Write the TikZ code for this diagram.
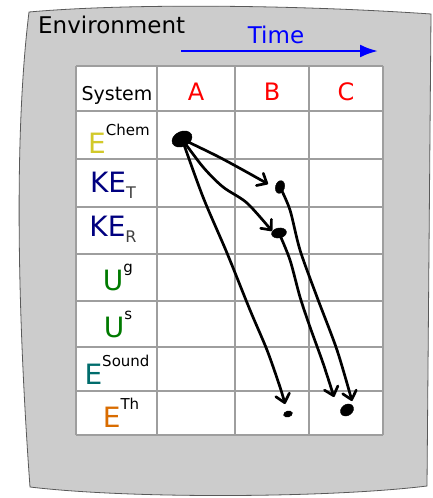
\documentclass[tikz,border=0pt]{standalone}
\usepackage{fontspec}
\setmainfont{DejaVu Sans}
\usetikzlibrary{arrows.meta}
\usetikzlibrary{shapes.geometric}

% energy symbol with a raised or lowered tag
\newcommand{\energyup}[3]{{\color{#1}\fontsize{28}{30}\selectfont #2}\raisebox{18pt}{\fontsize{15}{17}\selectfont #3}}
\newcommand{\energydown}[3]{{\color{#1}\fontsize{28}{30}\selectfont #2}\raisebox{-6pt}{\color{black!75}\fontsize{16}{18}\selectfont #3}}

\begin{document}
\begin{tikzpicture}[x=1pt, y=-1pt,
    inner sep=0pt, %
    envbox/.style={fill=black!20, draw=black!65, line width=0.8pt},
    cellline/.style={draw=black!38, line width=1.3pt},
    header/.style={anchor=base, font=\fontsize{24}{26}\selectfont},
    rowlabel/.style={anchor=base},
    blob/.style={ellipse, fill=black, draw=black, inner sep=0pt},
    timearrow/.style={draw=blue, line width=2.6pt, -{Latex[length=18pt,width=13pt]}},
    scrawl/.style={line width=2.7pt, line cap=round, line join=round,
        -{Straight Barb[length=8pt,width=14pt,round]}},
]
    % Colors
    \colorlet{chemc}{yellow!80!black}
    \colorlet{kec}{blue!50!black}
    \colorlet{uc}{green!48!black}
    \colorlet{soundc}{teal!85!black}
    \colorlet{thc}{orange!85!black}

    \useasboundingbox (0,0) rectangle (433,498);

    % Environment
    \draw[envbox] (29,12) .. controls (130,3) and (300,5) .. (431,14)
        -- (427,486) .. controls (330,498) and (130,499) .. (30,487)
        .. controls (20,350) and (12,150) .. (29,12) -- cycle;
    \node[anchor=base west, font=\fontsize{23}{25}\selectfont] (env) at (38,33) {Environment};

    % Time axis
    \coordinate (t0) at (181,51);
    \coordinate (t1) at (378,51);
    \draw[timearrow] (t0) -- (t1);
    \node[anchor=base, blue, font=\fontsize{23}{25}\selectfont] (time) at (276,43) {Time};

    % Table
    \fill[white] (76,66) rectangle (383,435);
    \foreach \x in {76,157,235,309,383}
        \draw[cellline] (\x,66) -- (\x,435);
    \foreach \y in {66,111,159,207,254,301,347,391,435}
        \draw[cellline] (76,\y) -- (383,\y);

    % Column heads
    \node[anchor=base, font=\fontsize{19}{21}\selectfont] (sys) at (117,100) {System};
    \foreach \c/\x in {A/196,B/272,C/346}
        \node[header, red] (col\c) at (\x,100) {\c};

    % Row heads
    \node[rowlabel] (chem)  at (119,153) {\energyup{chemc}{E}{Chem}};
    \node[rowlabel] (ket)   at (113,192) {\energydown{kec}{KE}{T}};
    \node[rowlabel] (ker)   at (113,236) {\energydown{kec}{KE}{R}};
    \node[rowlabel] (ug)    at (118,290) {\energyup{uc}{U}{g}};
    \node[rowlabel] (us)    at (118,337) {\energyup{uc}{U}{s}};
    \node[rowlabel] (sound) at (117,384) {\energyup{soundc}{E}{Sound}};
    \node[rowlabel] (th)    at (121,427) {\energyup{thc}{E}{Th}};

    % Energy dots
    \node[blob, minimum width=21pt, minimum height=15pt, rotate=25] (dotA) at (182,139) {};
    \node[blob, minimum width=9pt,  minimum height=13pt, rotate=-15] (dotKEt) at (280,187) {};
    \node[blob, minimum width=15pt, minimum height=10pt, rotate=10] (dotKEr) at (279,233) {};
    \node[blob, minimum width=9pt,  minimum height=6pt,  rotate=15] (dotThB) at (288,414) {};
    \node[blob, minimum width=14pt, minimum height=11pt, rotate=35] (dotThC) at (347,410) {};

    \coordinate (tipKEt)  at (268,184);
    \coordinate (tipKEr)  at (272,231);
    \coordinate (tipThB)  at (285,404);
    \coordinate (tipThCa) at (334,397);
    \coordinate (tipThCb) at (352,401);

    % Transfers
    \draw[scrawl] plot[smooth] coordinates {(dotA) (217,156) (243,170) (tipKEt)};
    \draw[scrawl] plot[smooth] coordinates {(dotA) (203,167) (223,187) (247,203) (tipKEr)};
    \draw[scrawl] plot[smooth] coordinates {(dotA) (203,197) (227,253) (250,310) (267,350) (280,387) (tipThB)};
    \draw[scrawl] plot[smooth] coordinates {(dotKEt) (290,210) (300,250) (317,297) (337,350) (tipThCb)};
    \draw[scrawl] plot[smooth] coordinates {(dotKEr) (290,260) (300,297) (310,327) (323,363) (tipThCa)};
\end{tikzpicture}
\end{document}
